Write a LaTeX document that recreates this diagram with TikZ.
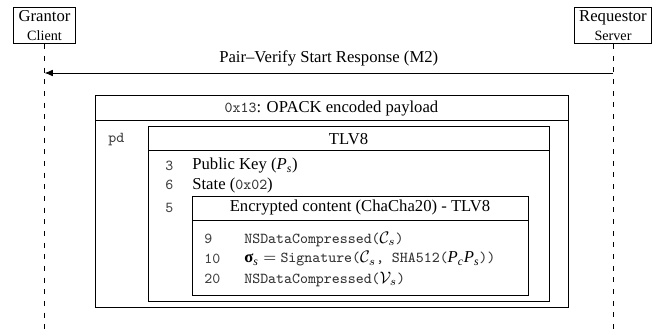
\documentclass[tikz,border=0pt]{standalone}
\usepackage{amsmath}
\usepackage{fontspec}
\setmainfont{Liberation Serif}
\usetikzlibrary{arrows.meta}
% typewriter text at a width of about 4.8pt per character
\newcommand{\mono}[1]{{\fontsize{9.1}{10}\selectfont\ttfamily\color{black!80}#1}}
% italic serif variable with subscript
\newcommand{\tvar}[2]{\textit{#1}_{\textit{#2}}}
\tikzset{
  actor/.style={draw, line width=0.7pt, align=center, inner xsep=3pt, inner ysep=2pt, font=\fontsize{10}{12}\selectfont},
  lifeline/.style={dashed, dash pattern=on 3pt off 4pt, line width=0.5pt},
  frame/.style={draw, line width=0.6pt},
  msg/.style={-{Latex[length=5pt,width=4pt]}, line width=0.5pt},
  txt/.style={font=\fontsize{10}{12}\selectfont, inner sep=0pt},
  num/.style={font=\fontsize{9.1}{10}\selectfont\ttfamily, text=black!75, inner sep=0pt, anchor=west},
  row/.style={font=\fontsize{10}{12}\selectfont, inner sep=0pt, anchor=west}
}
\begin{document}
\begin{tikzpicture}[x=0.6pt, y=-0.6pt]
\useasboundingbox (0,0) rectangle (654,335);
% participants
\node[actor] (grantor) at (44.5,25.5) {Grantor\\[-1pt]{\fontsize{8.5}{10}\selectfont Client}};
\node[actor] (requestor) at (613,25.5) {Requestor\\[-1pt]{\fontsize{8.5}{10}\selectfont Server}};
\coordinate (gend) at (44.5,335);
\coordinate (rend) at (613,335);
\draw[lifeline] (grantor.south) -- (gend);
\draw[lifeline] (requestor.south) -- (rend);
% message
\coordinate (mfrom) at (613,73);
\coordinate (mto) at (44.5,73);
\draw[msg] (mfrom) -- node[above=4pt, txt] (mlabel) {Pair--Verify Start Response (M2)} (mto);
% OPACK payload frame
\coordinate (o1) at (95,96);
\coordinate (o2) at (568,307);
\draw[frame] (o1) rectangle (o2);
\coordinate (oh1) at (95,121);
\coordinate (oh2) at (568,121);
\draw[frame] (oh1) -- (oh2);
\node[txt] (ohead) at (331.5,108.5) {\mono{0x13}: OPACK encoded payload};
\node[num] (pd) at (108,140) {pd};
% TLV8 frame
\coordinate (t1) at (148,127);
\coordinate (t2) at (549,301);
\draw[frame] (t1) rectangle (t2);
\coordinate (th1) at (148,151);
\coordinate (th2) at (549,151);
\draw[frame] (th1) -- (th2);
\node[txt] (thead) at (348.5,139) {TLV8};
\node[num] (n3) at (165,166) {3};
\node[row] (r3) at (192,166) {Public Key ($\tvar{P}{s}$)};
\node[num] (n6) at (165,185) {6};
\node[row] (r6) at (192,185) {State (\mono{0x02})};
\node[num] (n5) at (165,208) {5};
% encrypted content frame
\coordinate (e1) at (192,197);
\coordinate (e2) at (528,295);
\draw[frame] (e1) rectangle (e2);
\coordinate (eh1) at (192,220);
\coordinate (eh2) at (528,220);
\draw[frame] (eh1) -- (eh2);
\node[txt] (ehead) at (360,208) {Encrypted content (ChaCha20) - TLV8};
\node[num] (n9) at (204,239) {9};
\node[row] (r9) at (244,239) {\mono{NSDataCompressed(}$\mathcal{C}_s$\mono{)}};
\node[num] (n10) at (204,259) {10};
\node[row] (r10) at (244,259) {$\textbf{σ}_{\textit{s}} =$ \mono{Signature(}$\mathcal{C}_s$\mono{, SHA512(}$\tvar{P}{c}\tvar{P}{s}$\mono{))}};
\node[num] (n20) at (204,279) {20};
\node[row] (r20) at (244,279) {\mono{NSDataCompressed(}$\mathcal{V}_s$\mono{)}};
\end{tikzpicture}
\end{document}
